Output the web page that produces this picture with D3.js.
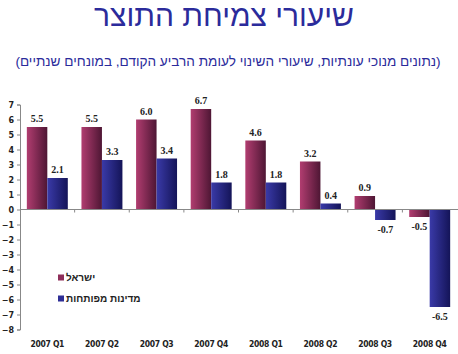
<!DOCTYPE html>
<html>
<head>
<meta charset="utf-8">
<script src="https://cdn.jsdelivr.net/npm/d3@7"></script>
<style>
  body { margin: 0; background: #fff; }
  svg { display: block; }
</style>
</head>
<body>
<svg width="458" height="354"></svg>
<script>
// chart data
const quarters = ["2007 Q1", "2007 Q2", "2007 Q3", "2007 Q4", "2008 Q1", "2008 Q2", "2008 Q3", "2008 Q4"];
const israel = [5.5, 5.5, 6.0, 6.7, 4.6, 3.2, 0.9, -0.5];
const developed = [2.1, 3.3, 3.4, 1.8, 1.8, 0.4, -0.7, -6.5];
const seriesNames = ["ישראל", "מדינות מפותחות"];
const yTicks = [7, 6, 5, 4, 3, 2, 1, 0, -1, -2, -3, -4, -5, -6, -7, -8];

const svg = d3.select("svg");
const margin = {top: 104, right: 1, bottom: 24, left: 20};
const width = +svg.attr("width");
const height = +svg.attr("height");

// gradients for the bars
const defs = svg.append("defs");
function grad(id, c1, c2) {
  const g = defs.append("linearGradient").attr("id", id)
    .attr("x1", "0%").attr("x2", "100%").attr("y1", "0%").attr("y2", "0%");
  g.append("stop").attr("offset", "0%").attr("stop-color", c1);
  g.append("stop").attr("offset", "100%").attr("stop-color", c2);
}
grad("gRed", "#b13d70", "#4e1634");
grad("gBlue", "#3a3aa8", "#141458");

// titles
svg.append("text")
  .attr("x", 224).attr("y", 26)
  .attr("text-anchor", "middle")
  .attr("direction", "rtl")
  .style("font-family", "Arial, 'Liberation Sans', sans-serif")
  .style("font-size", "30px")
  .attr("fill", "#2b2b9b")
  .text("שיעורי צמיחת התוצר");

svg.append("text")
  .attr("x", 228).attr("y", 66)
  .attr("text-anchor", "middle")
  .attr("direction", "rtl")
  .style("font-family", "Arial, 'Liberation Sans', sans-serif")
  .style("font-size", "13.6px")
  .attr("fill", "#2b2b9b")
  .text("(נתונים מנוכי עונתיות, שיעורי השינוי לעומת הרביע הקודם, במונחים שנתיים)");

// scales
const y = d3.scaleLinear().domain([-8, 7]).range([329.5, 104.5]);
const x = d3.scaleBand().domain(quarters).range([margin.left, width - 1]).paddingInner(0.25).paddingOuter(0.125);
const x0 = d3.scaleBand().domain(quarters).range([margin.left, width - 1]);
const xs = d3.scaleBand().domain([0, 1]).range([0, x.bandwidth()]);

// y axis
const yAxis = svg.append("g")
  .attr("transform", `translate(${margin.left},0)`)
  .call(d3.axisLeft(y).tickValues(yTicks).tickSize(3).tickFormat(d3.format("d")));
yAxis.select(".domain").attr("stroke", "#888");
yAxis.selectAll(".tick line").attr("stroke", "#888");
yAxis.selectAll("text")
  .attr("x", -6)
  .style("font-family", "Tahoma, 'DejaVu Sans', sans-serif")
  .style("font-size", "8px")
  .style("font-weight", "bold")
  .attr("fill", "#222");

// bars
const groups = svg.selectAll(".grp").data(quarters).enter().append("g")
  .attr("transform", d => `translate(${x(d)},0)`);

const rows = quarters.map((q, i) => [israel[i], developed[i]]);

groups.selectAll("rect")
  .data((q, i) => rows[i])
  .enter().append("rect")
  .attr("x", (d, j) => xs(j))
  .attr("width", xs.bandwidth())
  .attr("y", d => y(Math.max(0, d)))
  .attr("height", d => Math.abs(y(d) - y(0)))
  .attr("fill", (d, j) => j === 0 ? "url(#gRed)" : "url(#gBlue)");

// value labels
groups.selectAll(".val")
  .data((q, i) => rows[i])
  .enter().append("text")
  .attr("x", (d, j) => xs(j) + xs.bandwidth() / 2)
  .attr("y", d => d >= 0 ? y(d) - 5 : y(d) + 13)
  .attr("text-anchor", "middle")
  .style("font-family", "'Liberation Serif', 'Times New Roman', serif")
  .style("font-size", "10px")
  .style("font-weight", "bold")
  .attr("fill", "#222")
  .text(d => d.toFixed(1));

// x axis line at zero
const xAxis = svg.append("g")
  .attr("transform", `translate(0,${y(0)})`);
xAxis.append("line")
  .attr("x1", margin.left).attr("x2", width)
  .attr("stroke", "#888");
xAxis.selectAll(".tk")
  .data(quarters.slice(1))
  .enter().append("line")
  .attr("x1", d => x0(d)).attr("x2", d => x0(d))
  .attr("y1", 0).attr("y2", 3)
  .attr("stroke", "#888");

// category labels
svg.append("g").selectAll("text")
  .data(quarters)
  .enter().append("text")
  .attr("x", d => x0(d) + x0.bandwidth() / 2)
  .attr("y", 347)
  .attr("text-anchor", "middle")
  .style("font-family", "Tahoma, 'DejaVu Sans Condensed', sans-serif")
  .style("font-size", "8.5px")
  .style("font-weight", "bold")
  .style("letter-spacing", "-0.3px")
  .attr("fill", "#222")
  .text(d => d);

// legend
const legend = svg.append("g");
const legColors = ["#8e2e5a", "#2e2e96"];
seriesNames.forEach((n, i) => {
  const ly = 278 + i * 21;
  legend.append("rect")
    .attr("x", 58).attr("y", ly - 3.5)
    .attr("width", 6).attr("height", 6)
    .attr("fill", legColors[i]);
  legend.append("text")
    .attr("x", 66).attr("y", ly + 3)
    .attr("text-anchor", "start")
    .style("font-family", "Arial, 'Liberation Sans', sans-serif")
    .style("font-size", "10px")
    .style("font-weight", "bold")
    .attr("fill", "#222")
    .text(n);
});
</script>
</body>
</html>
